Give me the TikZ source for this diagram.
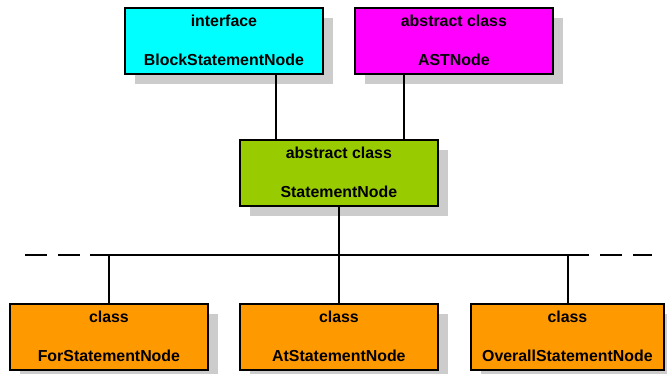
\documentclass[tikz,border=0pt]{standalone}
\usepackage{fontspec}
\setmainfont{Liberation Sans}
\usetikzlibrary{shadows}
\definecolor{cyanbox}{HTML}{00FFFF}
\definecolor{magbox}{HTML}{FF00FF}
\definecolor{greenbox}{HTML}{99CC00}
\definecolor{orangebox}{HTML}{FF9900}
\definecolor{shadowgray}{HTML}{CCCCCC}
\begin{document}
\begin{tikzpicture}[x=1pt,y=-1pt,
  classbox/.style={draw=black, line width=1.8pt, rectangle, anchor=north west,
    minimum width=#1, minimum height=66pt, inner sep=0pt,
    drop shadow={shadow xshift=10pt, shadow yshift=-10pt, fill=shadowgray, opacity=1}},
  boxtext/.style={font=\bfseries\fontsize{15.9}{18}\selectfont, inner sep=0pt, anchor=center},
  conn/.style={line width=1.4pt}
]
\useasboundingbox (0,0) rectangle (667,374);
% boxes
\node[classbox=198pt, fill=cyanbox] (block) at (124,7) {};
\node[classbox=198pt, fill=magbox] (ast) at (354,7) {};
\node[classbox=198pt, fill=greenbox] (stmt) at (239,139) {};
\node[classbox=198pt, fill=orangebox] (for) at (9,303) {};
\node[classbox=198pt, fill=orangebox] (at) at (239,303) {};
\node[classbox=193pt, fill=orangebox] (overall) at (470,303) {};
% texts
\foreach \b/\t/\n in {block/interface/BlockStatementNode, ast/abstract class/ASTNode,
  stmt/abstract class/StatementNode, for/class/ForStatementNode,
  at/class/AtStatementNode, overall/class/OverallStatementNode}{
  \node[boxtext] (\b-kind) at ([yshift=-13.5pt]\b.north) {\t};
  \node[boxtext] (\b-name) at ([yshift=-52.5pt]\b.north) {\n};
}
% connectors
\coordinate (c1) at (276,0);
\coordinate (c2) at (404,0);
\draw[conn] (block.south -| c1) -- (stmt.north -| c1);
\draw[conn] (ast.south -| c2) -- (stmt.north -| c2);
\coordinate (busL) at (90,255);
\coordinate (busR) at (589,255);
\coordinate (dashL) at (25,255);
\coordinate (dashR) at (652,255);
\draw[conn] (stmt.south) -- (stmt.south |- busL);
\draw[conn] (busL) -- (busR);
\draw[conn, dash pattern=on 22pt off 11pt] (dashL) -- (busL);
\draw[conn, dash pattern=on 0pt off 11pt on 22pt off 0pt] (busR) -- (dashR);
\draw[conn] (for.north |- busL) -- (for.north);
\draw[conn] (at.north |- busL) -- (at.north);
\coordinate (c3) at (568,0);
\draw[conn] (c3 |- busL) -- (overall.north -| c3);
\end{tikzpicture}
\end{document}
